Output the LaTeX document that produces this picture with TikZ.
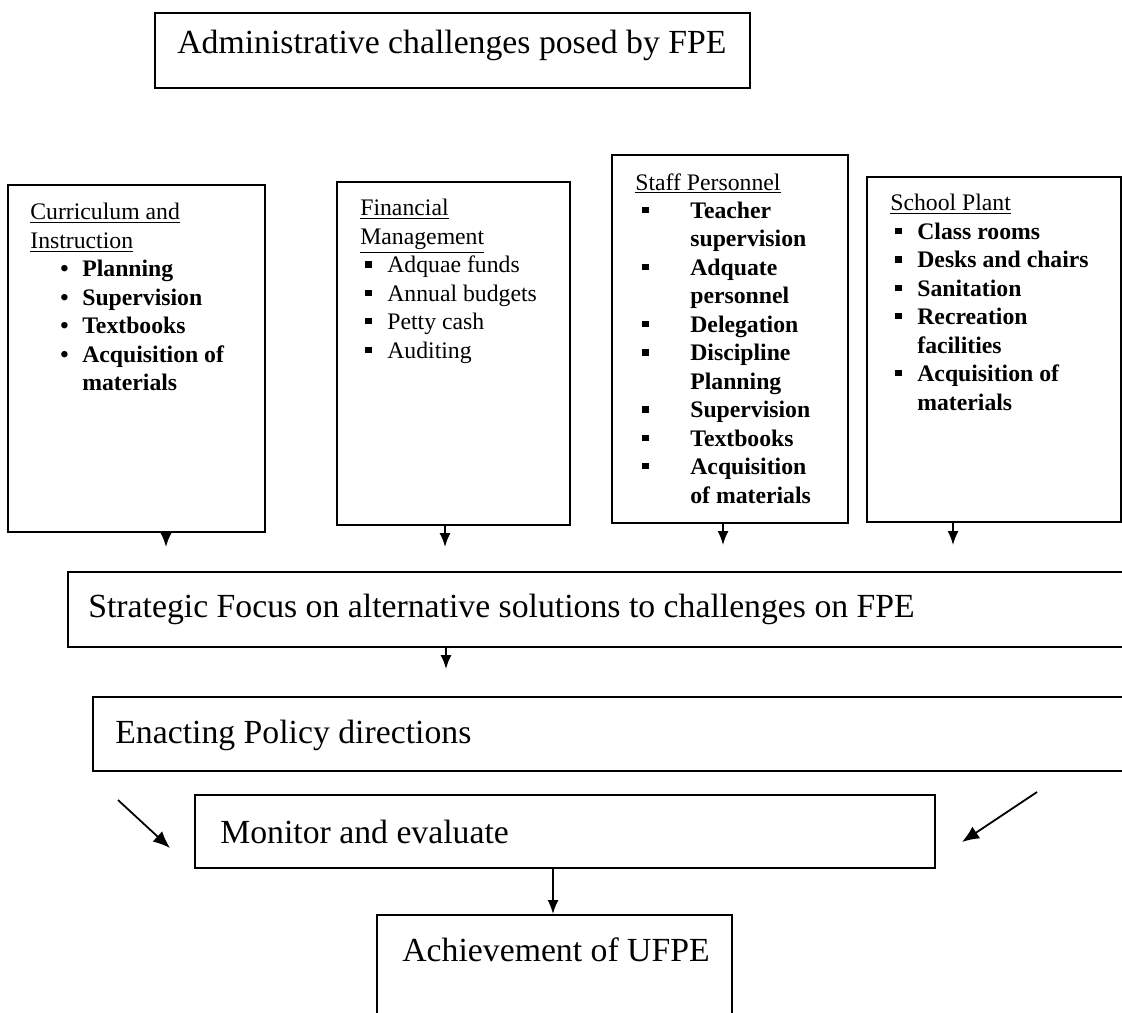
\documentclass[tikz,border=0pt]{standalone}
\usepackage{fontspec}
\setmainfont{Liberation Serif}
\usetikzlibrary{positioning,calc,fit,arrows.meta}

\newcommand{\rbul}{\textbullet}
\newcommand{\sqbul}{\rule[0.22em]{0.26em}{0.26em}}
\newcommand{\bulat}[3]{\hspace*{#1}\makebox[#2][l]{#3}}

\tikzset{
  box/.style={draw, line width=1.1pt, inner sep=0pt},
  bigtext/.style={font=\fontsize{19.2}{23}\selectfont, anchor=west, inner sep=0pt},
  listtext/.style={font=\fontsize{13.5}{16.2}\selectfont, anchor=north west, inner sep=0pt, align=left},
  arr/.style={-{Latex[length=2.8mm,width=2.2mm]}, line width=1pt},
  diagarr/.style={-{Latex[length=3.4mm,width=2.8mm]}, line width=1pt},
}

\begin{document}
\begin{tikzpicture}[x=0.02cm,y=-0.02cm]
        \clip (0,0) rectangle (1122,1012);

        % Top box
        \node[box, fit={(155,13) (750,88)}] (adm) {};
        \node[bigtext] (adm-txt) at (177,45) {Administrative challenges posed by FPE};

        % Four areas
        \node[box, fit={(8,185) (265,532)}] (curr) {};
        \node[listtext] (curr-txt) at (30,203) {%
          \underline{Curriculum and}\\
          \underline{Instruction}\\
          \bfseries\bulat{0.6cm}{0.44cm}{\rbul}Planning\\
          \bfseries\bulat{0.6cm}{0.44cm}{\rbul}Supervision\\
          \bfseries\bulat{0.6cm}{0.44cm}{\rbul}Textbooks\\
          \bfseries\bulat{0.6cm}{0.44cm}{\rbul}Acquisition of\\
          \bfseries\hspace*{1.04cm}materials};

        \node[box, fit={(337,182) (570,525)}] (fin) {};
        \node[listtext] (fin-txt) at (360,199) {%
          \underline{Financial}\\
          \underline{Management}\\
          \bulat{0.1cm}{0.44cm}{\sqbul}Adquae funds\\
          \bulat{0.1cm}{0.44cm}{\sqbul}Annual budgets\\
          \bulat{0.1cm}{0.44cm}{\sqbul}Petty cash\\
          \bulat{0.1cm}{0.44cm}{\sqbul}Auditing};

        \node[box, fit={(612,155) (848,523)}] (staff) {};
        \node[listtext] (staff-txt) at (635,173) {%
          \underline{Staff Personnel}\\
          \bfseries\bulat{0.14cm}{0.96cm}{\sqbul}Teacher\\
          \bfseries\hspace*{1.1cm}supervision\\
          \bfseries\bulat{0.14cm}{0.96cm}{\sqbul}Adquate\\
          \bfseries\hspace*{1.1cm}personnel\\
          \bfseries\bulat{0.14cm}{0.96cm}{\sqbul}Delegation\\
          \bfseries\bulat{0.14cm}{0.96cm}{\sqbul}Discipline\\
          \bfseries\hspace*{1.1cm}Planning\\
          \bfseries\bulat{0.14cm}{0.96cm}{\sqbul}Supervision\\
          \bfseries\bulat{0.14cm}{0.96cm}{\sqbul}Textbooks\\
          \bfseries\bulat{0.14cm}{0.96cm}{\sqbul}Acquisition\\
          \bfseries\hspace*{1.1cm}of materials};

        \node[box, fit={(867,177) (1121,522)}] (plant) {};
        \node[listtext] (plant-txt) at (890,194) {%
          \underline{School Plant}\\
          \bfseries\bulat{0.1cm}{0.44cm}{\sqbul}Class rooms\\
          \bfseries\bulat{0.1cm}{0.44cm}{\sqbul}Desks and chairs\\
          \bfseries\bulat{0.1cm}{0.44cm}{\sqbul}Sanitation\\
          \bfseries\bulat{0.1cm}{0.44cm}{\sqbul}Recreation\\
          \bfseries\hspace*{0.54cm}facilities\\
          \bfseries\bulat{0.1cm}{0.44cm}{\sqbul}Acquisition of\\
          \bfseries\hspace*{0.54cm}materials};

        % Lower chain
        \node[box, fit={(68,572) (1140,647)}] (strat) {};
        \node[bigtext] (strat-txt) at (88,609) {Strategic Focus on alternative solutions to challenges on FPE};

        \node[box, fit={(93,697) (1140,771)}] (enact) {};
        \node[bigtext] (enact-txt) at (115,735) {Enacting Policy directions};

        \node[box, fit={(195,795) (935,868)}] (mon) {};
        \node[bigtext] (mon-txt) at (220,832) {Monitor and evaluate};

        \node[box, fit={(377,915) (732,1030)}] (ach) {};
        \node[bigtext] (ach-txt) at (402,950) {Achievement of UFPE};

        \coordinate (lfree) at (118,800);
        \coordinate (ltip) at (170,848);
        \coordinate (rfree) at (1037,792);
        \coordinate (rtip) at (962,842);

        % Arrows
        \draw[arr, shorten >=0.48cm] (curr.south -| 166,0) -- (strat.north -| 166,0);
        \draw[arr, shorten >=0.48cm] (fin.south -| 445,0) -- (strat.north -| 445,0);
        \draw[arr, shorten >=0.52cm] (staff.south -| 723,0) -- (strat.north -| 723,0);
        \draw[arr, shorten >=0.52cm] (plant.south -| 953,0) -- (strat.north -| 953,0);
        \draw[arr, shorten >=0.54cm] (strat.south -| 446,0) -- (enact.north -| 446,0);
        \draw[diagarr] (lfree) -- (ltip);
        \draw[diagarr] (rfree) -- (rtip);
        \draw[arr] (mon.south -| 553,0) -- (ach.north -| 553,0);
\end{tikzpicture}
\end{document}
